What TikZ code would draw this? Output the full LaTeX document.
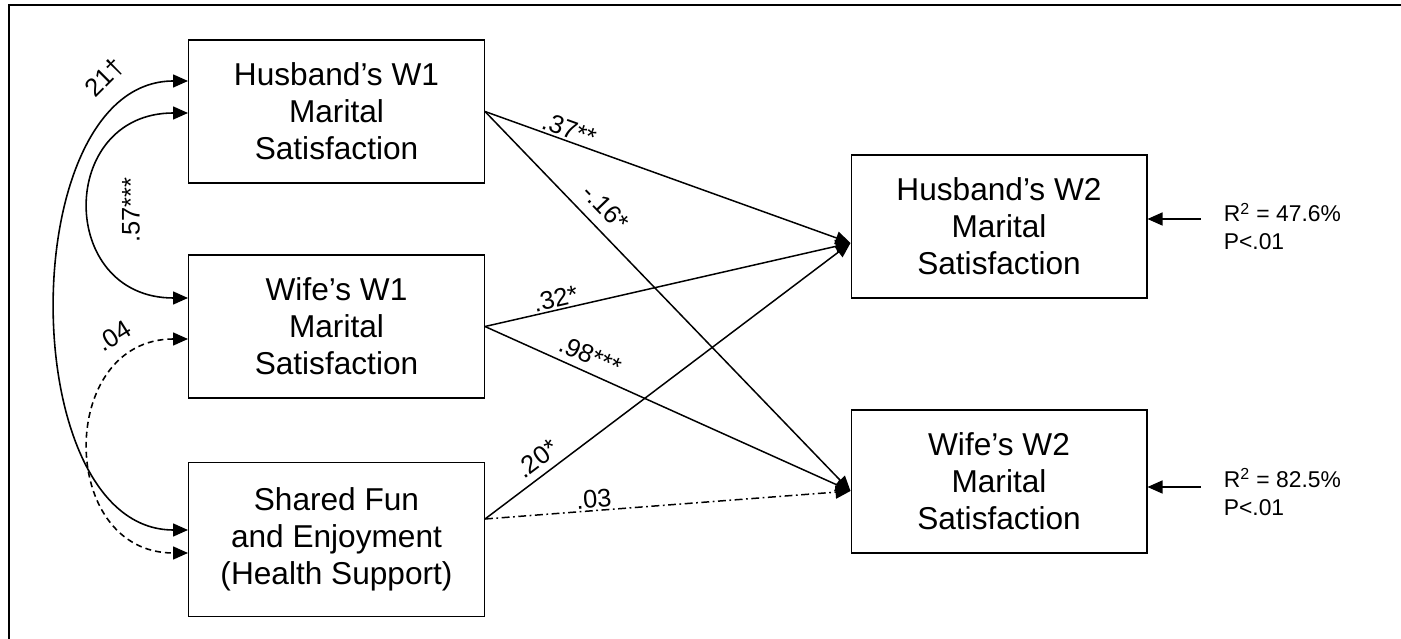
\documentclass[tikz,border=0pt]{standalone}
\usepackage{fontspec}
\setmainfont{Liberation Sans}
\usetikzlibrary{arrows.meta,calc}

\begin{document}
\begin{tikzpicture}[x=0.02cm, y=0.02cm,
  >={Triangle[length=0.3cm,width=0.26cm]},
  box/.style={rectangle, draw, line width=0.6pt, minimum width=5.92cm, minimum height=2.86cm, inner sep=0pt, align=center, font=\fontsize{18}{21}\selectfont},
  link/.style={->, line width=0.85pt},
  cov/.style={<->, line width=0.9pt},
  coef/.style={font=\fontsize{14.5}{16}\selectfont, inner sep=1pt},
  stat/.style={font=\fontsize{13}{15.9}\selectfont, align=left, inner sep=0pt, anchor=west}]

  \useasboundingbox (0,0) rectangle (1401,639);
  % frame
  \draw[line width=0.8pt] (9,0) -- (9,634) -- (1401,634);

  % Wave 1 predictors
  \node[box] (hw1) at (336.5,527.5) {Husband’s W1\\Marital\\Satisfaction};
  \node[box] (ww1) at (336.5,312.5) {Wife’s W1\\Marital\\Satisfaction};
  \node[box, minimum height=3.08cm] (sf) at (336.5,99.5) {Shared Fun\\and Enjoyment\\(Health Support)};

  % Wave 2 outcomes
  \node[box] (hw2) at (999,412.5) {Husband’s W2\\Marital\\Satisfaction};
  \node[box] (ww2) at (999,157.5) {Wife’s W2\\Marital\\Satisfaction};

  % entry and exit points
  \coordinate (hw2-in) at ($(hw2.west)+(0,-16.5)$);
  \coordinate (ww2-in) at ($(ww2.west)+(0,-9.5)$);
  \coordinate (sf-out) at ($(sf.east)+(0,20.5)$);

  % correlations
  \draw[cov] ($(sf.west)+(0,9.5)$) .. controls +(-175,0) and +(-175,0) .. ($(hw1.west)+(0,30.5)$);
  \draw[cov] ($(ww1.west)+(0,28.5)$) .. controls +(-131,0) and +(-131,0) .. ($(hw1.west)+(0,-1.5)$);
  \draw[cov, dash pattern=on 3.4pt off 2.3pt] ($(ww1.west)+(0,-12.5)$) .. controls +(-131,0) and +(-131,0) .. ($(sf.west)+(0,-13.5)$);
  \node[coef, rotate=45] (l21) at (105,561) {21†};
  \node[coef, rotate=90] (l57) at (131,429) {.57***};
  \node[coef, rotate=32] (l04) at (114,303) {.04};

  % paths
  \draw[link] (hw1.east) -- node[coef, sloped, above, pos=.22] (l37) {.37**} (hw2-in);
  \draw[link] (hw1.east) -- node[coef, sloped, above=5pt, pos=.29] (l16) {-.16*} (ww2-in);
  \draw[link] (ww1.east) -- node[coef, sloped, above, pos=.2] (l32) {.32*} (hw2-in);
  \draw[link] (ww1.east) -- node[coef, sloped, above=3pt, pos=.27] (l98) {.98***} (ww2-in);
  \draw[link] (sf-out) -- node[coef, sloped, above=3pt, pos=.17] (l20) {.20*} (hw2-in);
  \draw[link, dash pattern=on 4.5pt off 2pt on 1pt off 2pt] (sf-out) -- node[coef, sloped, above, pos=.3] (l03) {.03} (ww2-in);

  % explained variance
  \coordinate (hw2-src) at ($(hw2.east)+(53,7.5)$);
  \coordinate (ww2-src) at ($(ww2.east)+(53,-5.5)$);
  \draw[link] (hw2-src) -- (hw2-src -| hw2.east);
  \draw[link] (ww2-src) -- (ww2-src -| ww2.east);
  \node[stat] (r2h) at ($(hw2.east)+(76,0)$) {R\textsuperscript{2} = 47.6\%\\P<.01};
  \node[stat] (r2w) at ($(ww2.east)+(76,-10.5)$) {R\textsuperscript{2} = 82.5\%\\P<.01};
\end{tikzpicture}
\end{document}
